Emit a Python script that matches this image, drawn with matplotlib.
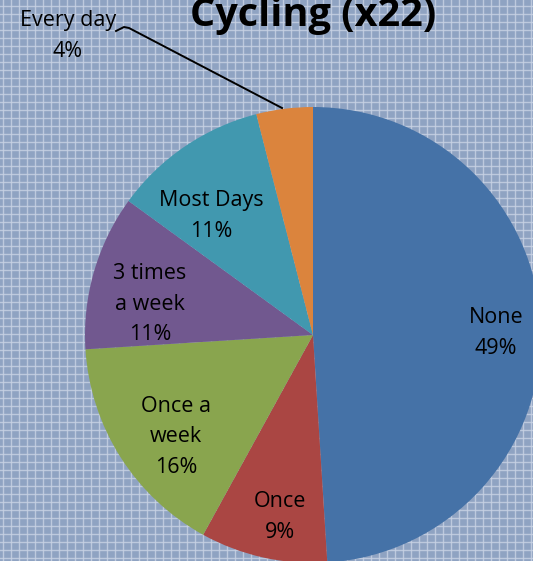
import matplotlib.pyplot as plt
import numpy as np

labels = ["None", "Once", "Once a\nweek", "3 times\na week", "Most Days", "Every day"]
values = [49, 9, 16, 11, 11, 4]
colors = ["#4572A7", "#AA4643", "#89A54E", "#71588F", "#4198AF", "#DB843D"]

W, H = 533, 561
fig = plt.figure(figsize=(W / 100, H / 100), dpi=100)
fig.patch.set_facecolor("#8fa3c2")

# grid-pattern background
bg = fig.add_axes([0, 0, 1, 1])
bg.set_xlim(0, W)
bg.set_ylim(0, H)
bg.axis("off")
for x in np.arange(3, W, 8):
    bg.axvline(x, color="#c9d3e4", lw=1.0, alpha=0.8)
for y in np.arange(3, H, 8):
    bg.axhline(y, color="#c9d3e4", lw=1.0, alpha=0.8)

ax = fig.add_axes([0, 0, 1, 1])
ax.set_facecolor("none")
cx, cy, r = 313, H - 335, 228
wedges, _ = ax.pie(values, colors=colors, startangle=90, counterclock=False,
                   center=(cx, cy), radius=r, frame=True)
ax.set_xlim(0, W)
ax.set_ylim(0, H)
ax.set_aspect("auto")
ax.axis("off")

font = "Open Sans"
# label positions in pixels (from top)
pos = [(496, 333), (280, 517), (176, 437), (150, 304), (211, 216), (68, 36)]
for lab, v, (x, y) in zip(labels, values, pos):
    ax.text(x, H - y, f"{lab}\n{v}%", ha="center", va="center", fontsize=15.5,
            family=font, linespacing=1.6, color="black")

# leader line for the small slice
ax.plot([116, 124, 129, 282], [H - 31, H - 27, H - 28, H - 108], color="black", lw=1.4)

fig.text(313 / W, 1 - 26 / H, "Cycling (x22)", ha="center", va="baseline",
         fontsize=28.5, fontweight="bold", family=font)

fig.savefig("out.png", dpi=100, facecolor=fig.get_facecolor())
